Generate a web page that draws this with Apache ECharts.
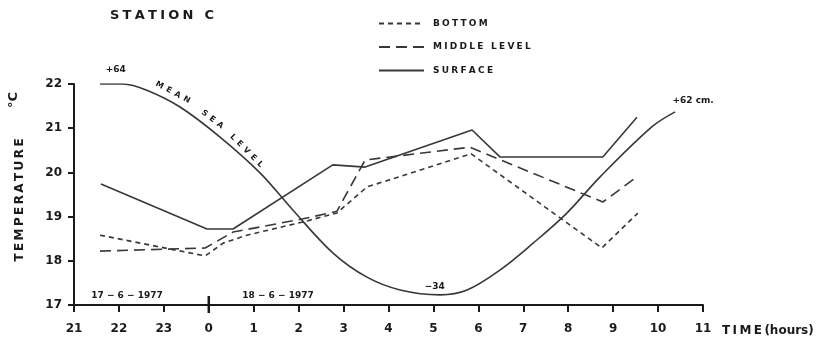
<!DOCTYPE html>
<html><head><meta charset="utf-8">
<script src="https://cdn.jsdelivr.net/npm/echarts@6/dist/echarts.min.js"></script>
<style>html,body{margin:0;padding:0;background:#fff}#c{width:822px;height:338px}</style>
</head><body><div id="c"></div>
<script>
// Time in hours since 0h of 17-6-1977 (24 = 0h of 18-6-1977)
const xMin = 21, xMax = 35, xStep = 1;
const yMin = 17, yMax = 22, yStep = 1;
const seriesNames = ['BOTTOM', 'MIDDLE LEVEL', 'SURFACE'];
const bottomData = [[21.58,18.58],[23.92,18.11],[24.32,18.40],[24.85,18.58],[26.10,18.88],[26.85,19.08],[27.52,19.67],[29.84,20.42],[32.75,18.29],[33.55,19.08]];
const middleData = [[21.58,18.22],[23.92,18.29],[24.54,18.65],[26.10,18.95],[26.85,19.12],[27.48,20.28],[29.81,20.57],[32.77,19.33],[33.53,19.90]];
const surfaceData = [[21.60,19.74],[23.96,18.72],[24.54,18.72],[26.76,20.17],[27.48,20.12],[29.86,20.96],[30.48,20.35],[32.77,20.35],[33.53,21.25]];
// Mean sea level curve drawn in the temperature frame
const seaLevelData = [[21.58,22.0],[22.09,22.0],[22.62,21.86],[23.36,21.48],[24.25,20.80],[25.14,19.99],[25.87,19.15],[26.76,18.18],[27.52,17.63],[28.26,17.34],[29.15,17.23],[29.75,17.34],[30.48,17.79],[31.22,18.40],[31.97,19.08],[32.71,19.90],[33.86,21.03],[34.38,21.37]];
// Text annotations anchored in data space: [text, x, y, rotation deg, size]
const notes = [
  ['+64', 21.93, 22.32, 0, 9],
  ['+62 cm.', 34.78, 21.62, 0, 9],
  ['\u221234', 29.03, 17.41, 0, 9],
  ['17 \u2212 6 \u2212 1977', 22.18, 17.22, 0, 9],
  ['18 \u2212 6 \u2212 1977', 25.54, 17.22, 0, 9],
  ['M\u2002E\u2002A\u2002N', 23.20, 21.81, 28, 8],
  ['S\u2002E\u2002A', 24.08, 21.20, 38, 8],
  ['L\u2002E\u2002V\u2002E\u2002L', 24.84, 20.49, 45, 8]
];
const midnight = 24;

const FONT = '"DejaVu Sans", sans-serif';
const INK = '#1a1a1a', LINE = '#383838';
function spaced(s, sep) { return s.split('').join(sep); }

const chart = echarts.init(document.getElementById('c'));
const option = {
  animation: false,
  backgroundColor: '#fff',
  grid: { left: 74, right: 119, top: 84, bottom: 33 },
  legend: {
    data: seriesNames,
    orient: 'vertical', left: 373, top: 14,
    itemWidth: 45, itemHeight: 10, itemGap: 14.5,
    itemStyle: { color: 'rgba(0,0,0,0)', borderWidth: 0, borderColor: 'rgba(0,0,0,0)' },
    formatter: n => spaced(n, '\u2005'),
    textStyle: { fontFamily: FONT, fontWeight: 'bold', fontSize: 9, color: INK, padding: [0,0,0,4] }
  },
  xAxis: {
    type: 'value', min: xMin, max: xMax, interval: xStep,
    axisLine: { lineStyle: { color: INK, width: 2 } },
    axisTick: { length: 7, lineStyle: { color: INK, width: 2 } },
    splitLine: { show: false },
    axisLabel: { margin: 18, formatter: v => String(v % 24), fontFamily: FONT, fontWeight: 'bold', fontSize: 12, color: INK }
  },
  yAxis: {
    type: 'value', min: yMin, max: yMax, interval: yStep,
    axisLine: { show: true, lineStyle: { color: INK, width: 2 } },
    axisTick: { show: true, length: 6, lineStyle: { color: INK, width: 2 } },
    splitLine: { show: false },
    axisLabel: { margin: 12, fontFamily: FONT, fontWeight: 'bold', fontSize: 12, color: INK }
  },
  series: [
    { name: 'BOTTOM', type: 'line', data: bottomData, symbol: 'none', lineStyle: { color: LINE, width: 1.6, type: [5, 4] }, itemStyle: { color: LINE } },
    { name: 'MIDDLE LEVEL', type: 'line', data: middleData, symbol: 'none', lineStyle: { color: LINE, width: 1.6, type: [11, 6] }, itemStyle: { color: LINE } },
    { name: 'SURFACE', type: 'line', data: surfaceData, symbol: 'none', lineStyle: { color: LINE, width: 1.6 }, itemStyle: { color: LINE } },
    { name: 'MEAN SEA LEVEL', type: 'line', data: seaLevelData, symbol: 'none', smooth: 0.35, lineStyle: { color: LINE, width: 1.6 }, itemStyle: { color: LINE } }
  ]
};
chart.setOption(option);

const P = (x, y) => chart.convertToPixel({ gridIndex: 0 }, [x, y]);
const graphics = [];
graphics.push({ type: 'text', left: 110, top: 9, style: { text: spaced('STATION C', '\u2005'), fontFamily: FONT, fontWeight: 'bold', fontSize: 13, fill: INK } });
graphics.push({ type: 'text', x: 20, y: 200, rotation: Math.PI / 2, style: { text: spaced('TEMPERATURE', '\u2009'), fontFamily: FONT, fontWeight: 'bold', fontSize: 12, fill: INK, align: 'center', verticalAlign: 'middle' } });
graphics.push({ type: 'text', x: 14, y: 100, rotation: Math.PI / 2, style: { text: '\u00B0C', fontFamily: FONT, fontWeight: 'bold', fontSize: 13, fill: INK, align: 'center', verticalAlign: 'middle' } });
const endPt = P(xMax, yMin);
graphics.push({ type: 'text', x: endPt[0] + 19, y: endPt[1] + 26, style: { text: 'T\u2009I\u2009M\u2009E\u2009(hours)', fontFamily: FONT, fontWeight: 'bold', fontSize: 12, fill: INK, align: 'left', verticalAlign: 'middle' } });
const m0 = P(midnight, yMin);
graphics.push({ type: 'line', shape: { x1: m0[0], y1: m0[1] - 9, x2: m0[0], y2: m0[1] + 8 }, style: { stroke: INK, lineWidth: 2.5 } });
notes.forEach(([t, x, y, r, s]) => {
  const p = P(x, y);
  graphics.push({ type: 'text', x: p[0], y: p[1], rotation: -r * Math.PI / 180, style: { text: t, fontFamily: FONT, fontWeight: 'bold', fontSize: s, fill: INK, align: 'center', verticalAlign: 'middle' } });
});
chart.setOption({ graphic: graphics });
</script></body></html>
